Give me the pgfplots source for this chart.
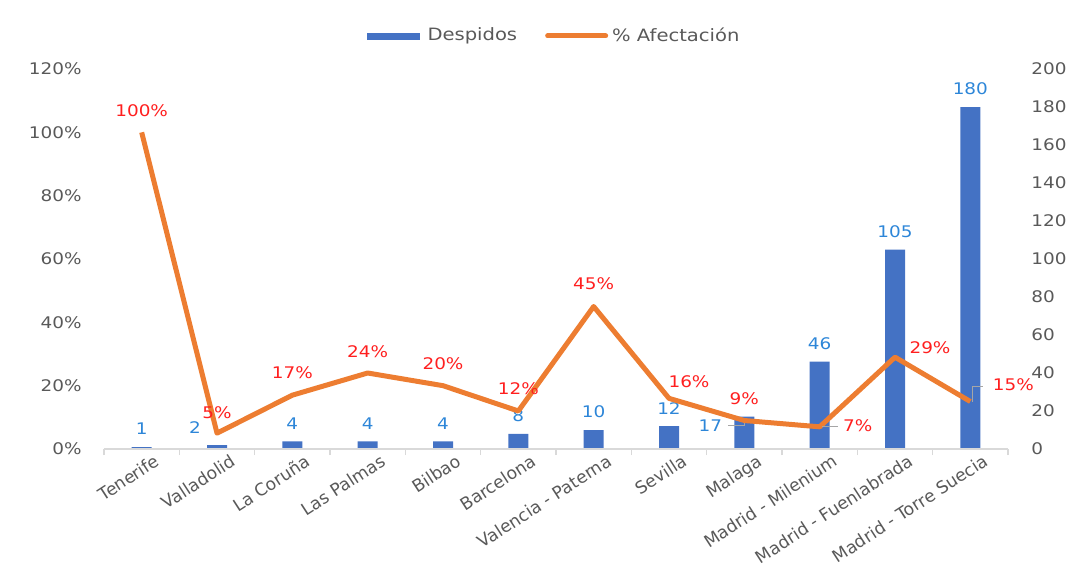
\documentclass[border=0pt]{standalone}
\usepackage{fontspec}
\setmainfont{DejaVu Sans}[FakeStretch=1.15]
\newfontfamily\xlabfont{DejaVu Sans}
\usepackage{pgfplots}
\pgfplotsset{compat=1.18}
\usepackage{pgfplotstable}

\definecolor{barblue}{HTML}{4472C4}
\definecolor{lineorange}{HTML}{ED7D31}
\definecolor{lblblue}{HTML}{2D86D8}
\definecolor{lblred}{HTML}{FF1F1F}
\definecolor{ticktext}{HTML}{595959}
\definecolor{axisgray}{HTML}{D9D9D9}
\definecolor{leader}{HTML}{A6A6A6}

% despidos por centro (eje derecho); dx/dy = desplazamiento de la etiqueta
\pgfplotstableread{
x  y    dx   dy
0  1    0    9
1  2    -11  9
2  4    0    9
3  4    0    9
4  4    0    9
5  8    0    9
6  10   0    9
7  12   0    9
8  17   -17  -4.5
9  46   0    9
10 105  0    9
11 180  0    9
}\despidos

% porcentaje de afectacion (eje izquierdo)
\pgfplotstableread{
x  y    dx    dy
0  100  0     11
1  5    0     10
2  17   0     11
3  24   0     10.5
4  20   0     11
5  12   0     11
6  45   0     11.5
7  16   10    8.5
8  9    0     11
9  7    19    0.5
10 29   17.5  4.5
11 15   21.5  8.25
}\afectacion

\begin{document}
\begin{tikzpicture}
\useasboundingbox (0,0) rectangle (539pt,287.5pt);
\pgfplotsset{
  base/.style={
    at={(52pt,63pt)}, anchor=south west,
    scale only axis, width=452pt, height=190pt,
    xmin=-0.5, xmax=11.5,
    /pgf/number format/assume math mode=true,
    font=\fontsize{8}{10}\selectfont,
    tick label style={text=ticktext},
    major tick length=0pt,
  },
}
% barras: eje derecho
\begin{axis}[base,
  ymin=0, ymax=200, ytick={0,20,...,200},
  axis y line*=right, axis x line=none,
  y axis line style={draw=none},
  yticklabel style={anchor=west, inner sep=0pt, xshift=11.5pt},
]
\addplot[ybar, bar width=10pt, fill=barblue, draw=none,
  nodes near coords, nodes near coords align=center,
  visualization depends on={\thisrow{dx} \as \labdx},
  visualization depends on={\thisrow{dy} \as \labdy},
  nodes near coords style={text=lblblue, inner sep=0pt,
    xshift=\labdx pt, yshift=\labdy pt}]
  table[x=x, y=y] {\despidos};
\draw[leader, line width=0.6pt] ([xshift=-8pt,yshift=-4.5pt]axis cs:8,17)
  -- ([yshift=-4.5pt]axis cs:8,17) -- ([yshift=-0.5pt]axis cs:8,17);
\end{axis}
% linea: eje izquierdo
\begin{axis}[base,
  ymin=0, ymax=120, ytick={0,20,...,120},
  yticklabel={\pgfmathprintnumber{\tick}\%},
  axis y line*=left, axis x line*=bottom,
  y axis line style={draw=none},
  x axis line style={axisgray, line width=0.75pt, -},
  xtick={0,...,11},
  xticklabels={Tenerife, Valladolid, La Coruña, Las Palmas, Bilbao, Barcelona,
    Valencia - Paterna, Sevilla, Malaga, Madrid - Milenium,
    Madrid - Fuenlabrada, Madrid - Torre Suecia},
  xticklabel style={rotate=33, anchor=north east, inner sep=0pt,
    xshift=4pt, yshift=-5pt, font=\xlabfont\fontsize{8.6}{10}\selectfont},
  minor xtick={-0.5,0.5,...,11.5},
  minor tick length=3pt, tick align=outside,
  minor tick style={axisgray, line width=0.75pt},
  yticklabel style={anchor=east, inner sep=0pt, xshift=-11pt},
  legend style={at={(0.499,1.087)}, anchor=center, draw=none, fill=none,
    legend columns=2, text=ticktext, font=\fontsize{8.5}{10}\selectfont,
    /tikz/every even column/.append style={column sep=12pt},
    nodes={inner sep=2pt}},
]
\addlegendimage{legend image code/.code={
  \fill[barblue] (0pt,-1.5pt) rectangle (26pt,1.5pt); \path (28pt,0pt);}}
\addlegendentry{Despidos}
\addplot[lineorange, line width=2.5pt, line join=round, no marks,
  legend image code/.code={
    \draw[lineorange, line width=2.5pt, line cap=round] (0pt,0pt) -- (29pt,0pt);},
  nodes near coords={\pgfmathprintnumber{\pgfplotspointmeta}\%},
  nodes near coords align=center,
  visualization depends on={\thisrow{dx} \as \labdx},
  visualization depends on={\thisrow{dy} \as \labdy},
  nodes near coords style={text=lblred, inner sep=0pt,
    xshift=\labdx pt, yshift=\labdy pt}]
  table[x=x, y=y] {\afectacion};
\addlegendentry{\% Afectación}
\draw[leader, line width=0.6pt] ([xshift=1pt]axis cs:9,7) -- ([xshift=9pt]axis cs:9,7);
\draw[leader, line width=0.6pt] ([xshift=1pt]axis cs:11,15)
  -- ([xshift=1pt,yshift=7.5pt]axis cs:11,15) -- ([xshift=6.5pt,yshift=7.5pt]axis cs:11,15);
\end{axis}
\end{tikzpicture}
\end{document}
